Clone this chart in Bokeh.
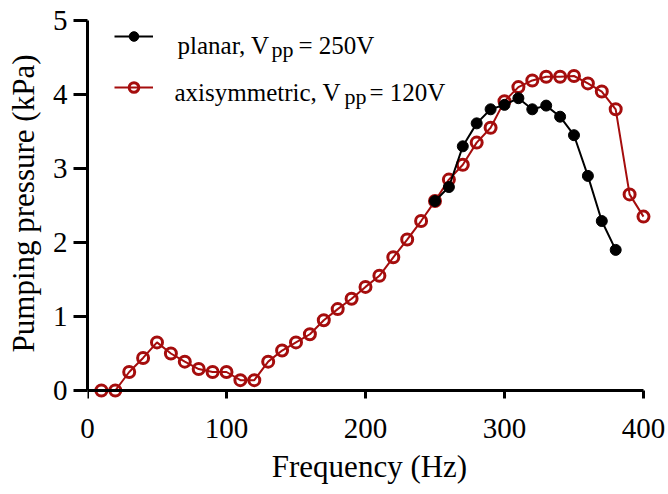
from bokeh.plotting import figure
from bokeh.models import Range1d, FixedTicker, Label, Legend, LegendItem, LinearAxis
from bokeh.core.properties import value
from bokeh.embed import file_html
from bokeh.resources import INLINE

# ---- data ----
freq_axi = [10, 20, 30, 40, 50, 60, 70, 80, 90, 100,
            110, 120, 130, 140, 150, 160, 170, 180, 190, 200,
            210, 220, 230, 240, 250, 260, 270, 280, 290, 300,
            310, 320, 330, 340, 350, 360, 370, 380, 390, 400]
p_axi = [0.0, 0.0, 0.25, 0.44, 0.65, 0.50, 0.39, 0.29, 0.25, 0.25,
         0.14, 0.14, 0.39, 0.54, 0.65, 0.76, 0.95, 1.10, 1.24, 1.40,
         1.55, 1.80, 2.04, 2.29, 2.56, 2.85, 3.05, 3.35, 3.55, 3.91,
         4.10, 4.19, 4.24, 4.24, 4.25, 4.15, 4.04, 3.80, 2.65, 2.35]

freq_planar = [250, 260, 270, 280, 290, 300, 310, 320, 330, 340, 350, 360, 370, 380]
p_planar = [2.56, 2.75, 3.30, 3.61, 3.80, 3.86, 3.95, 3.80, 3.85, 3.70, 3.45, 2.90, 2.29, 1.90]

x_ticks = [0, 100, 200, 300, 400]
y_ticks = [0, 1, 2, 3, 4, 5]

FONT = "Liberation Serif"
RED = "#a50d0d"

p = figure(width=668, height=494, output_backend="svg", toolbar_location=None,
           x_range=Range1d(0, 405.76), y_range=Range1d(-0.1081, 5.1622),
           x_axis_location=None,
           min_border_left=87, min_border_right=17, min_border_top=8,
           min_border_bottom=96)
p.outline_line_color = None
p.xgrid.visible = False
p.ygrid.visible = False
p.background_fill_color = "white"
p.border_fill_color = "white"

# series
r_line = p.line(freq_axi, p_axi, line_color=RED, line_width=2)
r_pts = p.scatter(freq_axi, p_axi, marker="circle", size=11, line_color=RED,
                  line_width=3, fill_color=None)
b_line = p.line(freq_planar, p_planar, line_color="black", line_width=2)
b_pts = p.scatter(freq_planar, p_planar, marker="circle", size=11,
                  line_color="black", fill_color="black")

# x axis, part 1: tick labels + title at the frame bottom (no line, no ticks)
xl = LinearAxis(ticker=FixedTicker(ticks=x_ticks, minor_ticks=[]),
                axis_line_color=None, major_tick_line_color=None,
                major_tick_in=0, major_tick_out=0, minor_tick_in=0, minor_tick_out=0,
                major_label_standoff=20,
                major_label_text_font=FONT, major_label_text_font_size="29px",
                major_label_text_color="black",
                axis_label="Frequency (Hz)", axis_label_text_font=FONT,
                axis_label_text_font_size="31px", axis_label_text_font_style="normal",
                axis_label_text_color="black", axis_label_standoff=8)
p.add_layout(xl, "below")

# x axis, part 2: line and ticks at y = 0
xa = LinearAxis(ticker=FixedTicker(ticks=x_ticks, minor_ticks=[]),
                bounds=(x_ticks[0], x_ticks[-1]), fixed_location=0,
                axis_line_width=3, axis_line_color="black",
                major_tick_line_width=3, major_tick_line_color="black",
                major_tick_in=-13, major_tick_out=0, minor_tick_in=0, minor_tick_out=0,
                major_label_standoff=0, major_label_text_font_size="1px",
                major_label_text_alpha=0)
p.add_layout(xa, "below")

# y axis
ya = p.yaxis[0]
ya.ticker = FixedTicker(ticks=y_ticks, minor_ticks=[])
ya.bounds = (y_ticks[0], y_ticks[-1])
ya.axis_line_width = 3
ya.axis_line_color = "black"
ya.major_tick_line_width = 3
ya.major_tick_line_color = "black"
ya.major_tick_in = 0
ya.major_tick_out = 14
ya.minor_tick_in = 0
ya.minor_tick_out = 0
ya.major_label_standoff = 6
ya.major_label_text_font = FONT
ya.major_label_text_font_size = "29px"
ya.major_label_text_color = "black"
ya.axis_label = "Pumping pressure (kPa)"
ya.axis_label_text_font = FONT
ya.axis_label_text_font_size = "31px"
ya.axis_label_text_font_style = "normal"
ya.axis_label_text_color = "black"
ya.axis_label_standoff = 9

# legend samples
legend = Legend(items=[
    LegendItem(label=value(" "), renderers=[b_line, b_pts]),
    LegendItem(label=value(" "), renderers=[r_line, r_pts]),
], location=(27, 299), glyph_width=39, glyph_height=24, label_height=24,
    label_width=0, spacing=27, padding=0, margin=0, label_standoff=0,
    border_line_color=None, background_fill_alpha=0, label_text_font_size="1px")
p.add_layout(legend)

# legend texts (with subscripts)
def txt(x, y, s, size):
    p.add_layout(Label(x=x, y=y, x_units="screen", y_units="screen", text=s,
                       text_font=FONT, text_font_size=size, text_color="black",
                       text_align="left", text_baseline="alphabetic"))

txt(90, 353.5, "planar, V", "25px")
txt(184, 349.5, "pp", "22px")
txt(211, 353.5, "= 250V", "25px")
txt(87, 306.3, "axisymmetric, V", "25px")
txt(257, 302, "pp", "22px")
txt(282, 306.3, "= 120V", "25px")

open("out.html", "w").write(file_html(p, INLINE))
